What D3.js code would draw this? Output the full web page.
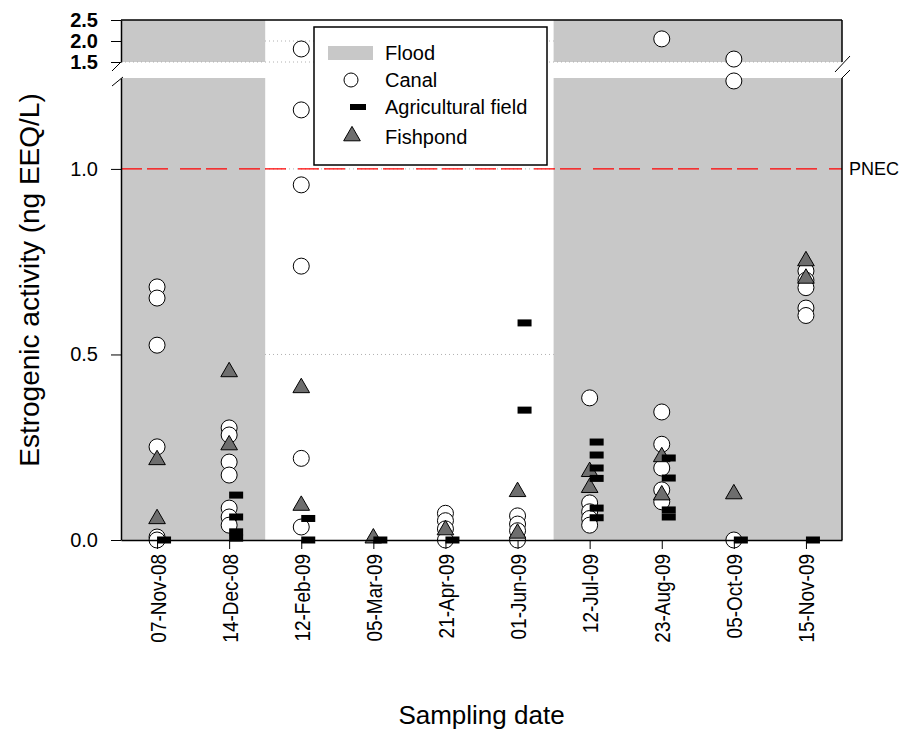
<!DOCTYPE html>
<html>
<head>
  <meta charset="utf-8">
  <title>Estrogenic activity</title>
  <style>
    body { margin: 0; background: #fff; }
    text { font-family: "Liberation Sans", Arial, sans-serif; }
  </style>
</head>
<body>
  <div id="plot"></div>

  <script src="https://cdn.jsdelivr.net/npm/d3@7/dist/d3.min.js"></script>
  <script>

    // sampling dates (x categories)
    let dates = ['07-Nov-08', '14-Dec-08', '12-Feb-09', '05-Mar-09', '21-Apr-09',
                 '01-Jun-09', '12-Jul-09', '23-Aug-09', '05-Oct-09', '15-Nov-09'];

    // flood periods, first and last date index
    let floods = [[0, 1], [6, 9]];

    // values per date, ng EEQ/L
    let canal = [
      [0.682, 0.652, 0.525, 0.251, 0.008, 0.0],
      [0.302, 0.283, 0.21, 0.175, 0.086, 0.062, 0.04],
      [1.81, 1.159, 0.957, 0.738, 0.22, 0.035],
      [],
      [0.072, 0.052, 0.03, 0.0],
      [0.065, 0.043, 0.025, 0.0],
      [0.383, 0.1, 0.076, 0.058, 0.04],
      [2.05, 0.345, 0.258, 0.194, 0.135, 0.103],
      [1.57, 1.237, 0.0],
      [0.725, 0.70, 0.68, 0.625, 0.605]
    ];
    let agri = [
      [0.0],
      [0.121, 0.062, 0.022, 0.005],
      [0.058, 0.0],
      [0.0],
      [0.0],
      [0.585, 0.35],
      [0.264, 0.229, 0.194, 0.166, 0.086, 0.06],
      [0.221, 0.167, 0.081, 0.062],
      [0.0],
      [0.0]
    ];
    let fish = [
      [0.216, 0.057],
      [0.453, 0.256],
      [0.41, 0.093],
      [0.005],
      [0.027],
      [0.13, 0.018],
      [0.184, 0.141],
      [0.224, 0.121],
      [0.124],
      [0.752, 0.705]
    ];

    let lowTicks = [0.0, 0.5, 1.0];
    let highTicks = [1.5, 2.0, 2.5];
    let pnec = 1.0;

    let svgWidth = 907;
    let svgHeight = 745;
    let pLeft = 121, pRight = 842, pTop = 20, pBottom = 540;
    let lowTop = 78, highBottom = 62;   // broken axis edges
    let lowMax = 1.245;                 // value at top of lower part

    let svg = d3.select('#plot')
      .append('svg')
        .attr('width', svgWidth)
        .attr('height', svgHeight);

    let x = d3.scalePoint()
              .domain(dates)
              .range([pLeft, pRight])
              .padding(0.5);
    let step = x.step();

    let yLow = d3.scaleLinear().domain([0, lowMax]).range([pBottom, lowTop]);
    let yHigh = d3.scaleLinear().domain([1.5, 2.5]).range([highBottom, pTop]);
    function y(v) { return v > lowMax ? yHigh(v) : yLow(v); }

    // grid lines (behind flood shading)
    let grid = svg.append('g')
      .attr('stroke', '#b0b0b0')
      .attr('stroke-dasharray', '1,3');
    [0.5, 1.0].forEach(function (v) {
      grid.append('line').attr('x1', pLeft).attr('x2', pRight)
        .attr('y1', yLow(v)).attr('y2', yLow(v));
    });
    grid.append('line').attr('x1', pLeft).attr('x2', pRight)
      .attr('y1', yHigh(2.0)).attr('y2', yHigh(2.0));

    // flood shading
    floods.forEach(function (f) {
      let x0 = Math.max(pLeft, x(dates[f[0]]) - step / 2);
      let x1 = Math.min(pRight, x(dates[f[1]]) + step / 2);
      svg.append('rect').attr('x', x0).attr('width', x1 - x0)
        .attr('y', lowTop).attr('height', pBottom - lowTop).attr('fill', '#c8c8c8');
      svg.append('rect').attr('x', x0).attr('width', x1 - x0)
        .attr('y', pTop).attr('height', highBottom - pTop).attr('fill', '#c8c8c8');
    });

    svg.append('line')
      .attr('x1', pLeft).attr('x2', pRight)
      .attr('y1', yHigh(1.5)).attr('y2', yHigh(1.5))
      .attr('stroke', '#b0b0b0').attr('stroke-dasharray', '1,3');

    // PNEC line
    svg.append('line')
      .attr('x1', pLeft).attr('x2', pRight)
      .attr('y1', yLow(pnec)).attr('y2', yLow(pnec))
      .attr('stroke', '#ff0000').attr('stroke-width', 1.3)
      .attr('stroke-dasharray', '21,5,21,12');
    svg.append('text')
      .attr('x', pRight + 7).attr('y', yLow(pnec)).attr('dy', '.35em')
      .style('font-size', '18px').text('PNEC');

    // legend
    let lg = svg.append('g');
    lg.append('rect').attr('x', 314).attr('y', 27).attr('width', 233).attr('height', 138)
      .attr('fill', '#fff').attr('stroke', '#000').attr('stroke-width', 1.5);
    lg.append('rect').attr('x', 328).attr('y', 46).attr('width', 45).attr('height', 14)
      .attr('fill', '#c8c8c8');
    lg.append('circle').attr('cx', 351).attr('cy', 80).attr('r', 7)
      .attr('fill', '#fff').attr('stroke', '#000');
    lg.append('rect').attr('x', 350).attr('y', 104).attr('width', 16).attr('height', 6)
      .attr('fill', '#000');
    lg.append('path').attr('d', d3.symbol(d3.symbolTriangle, 120)())
      .attr('transform', 'translate(352,136)')
      .attr('fill', '#6e6e6e').attr('stroke', '#000');
    [['Flood', 53], ['Canal', 80], ['Agricultural field', 107], ['Fishpond', 137]].forEach(function (t) {
      lg.append('text').attr('x', 385).attr('y', t[1]).attr('dy', '.35em')
        .style('font-size', '20px').text(t[0]);
    });

    // points
    function flat(arr) {
      let out = [];
      arr.forEach(function (vals, i) {
        vals.forEach(function (v) { out.push({date: dates[i], v: v}); });
      });
      return out;
    }

    svg.append('g').selectAll('circle')
      .data(flat(canal))
      .enter()
        .append('circle')
        .attr('cx', d => x(d.date))
        .attr('cy', d => y(d.v))
        .attr('r', 8)
        .attr('fill', '#fff')
        .attr('stroke', '#000')
        .attr('stroke-width', 1);

    svg.append('g').selectAll('path')
      .data(flat(fish))
      .enter()
        .append('path')
        .attr('d', d3.symbol(d3.symbolTriangle, 120)())
        .attr('transform', d => 'translate(' + x(d.date) + ',' + y(d.v) + ')')
        .attr('fill', '#6e6e6e')
        .attr('stroke', '#000')
        .attr('stroke-width', 1);

    svg.append('g').selectAll('rect')
      .data(flat(agri))
      .enter()
        .append('rect')
        .attr('x', d => x(d.date))
        .attr('y', d => y(d.v) - 3.5)
        .attr('width', 14)
        .attr('height', 7)
        .attr('fill', '#000');

    // frame
    let frame = svg.append('g').attr('stroke', '#000').attr('stroke-width', 1.5).attr('fill', 'none');
    frame.append('line').attr('x1', pLeft).attr('x2', pRight).attr('y1', pTop).attr('y2', pTop);
    frame.append('line').attr('x1', pRight).attr('x2', pRight).attr('y1', pTop).attr('y2', highBottom);
    frame.append('line').attr('x1', pRight).attr('x2', pRight).attr('y1', lowTop).attr('y2', pBottom);
    // break marks
    frame.append('line').attr('x1', pLeft - 9).attr('y1', highBottom + 9).attr('x2', pLeft).attr('y2', highBottom).attr('stroke-width', 1);
    frame.append('line').attr('x1', pLeft - 9).attr('y1', lowTop + 8).attr('x2', pLeft + 2).attr('y2', lowTop - 1).attr('stroke-width', 1);
    frame.append('line').attr('x1', pRight - 7).attr('y1', highBottom + 10).attr('x2', pRight + 8).attr('y2', highBottom - 6).attr('stroke-width', 1);
    frame.append('line').attr('x1', pRight).attr('y1', lowTop).attr('x2', pRight + 8).attr('y2', lowTop - 8).attr('stroke-width', 1);

    // axes
    let xAxis = d3.axisBottom(x).tickSize(9).tickSizeOuter(0);
    svg.append('g')
      .attr('transform', 'translate(0,' + pBottom + ')')
      .call(xAxis)
      .call(g => g.select('.domain').attr('stroke-width', 1.5))
      .selectAll('text')
        .attr('y', 0)
        .attr('x', -14)
        .attr('dy', '.35em')
        .attr('transform', 'rotate(-90) scale(1,1.2)')
        .style('text-anchor', 'end')
        .style('font-size', '19px')
        .attr('fill', '#000');

    svg.append('g')
      .attr('transform', 'translate(' + pLeft + ',0)')
      .call(d3.axisLeft(yLow).tickValues(lowTicks).tickFormat(d3.format('.1f')).tickSize(10).tickSizeOuter(0))
      .call(g => g.select('.domain').attr('stroke-width', 1.5))
      .selectAll('text')
        .attr('x', -23)
        .style('font-size', '20px')
        .attr('fill', '#000');

    svg.append('g')
      .attr('transform', 'translate(' + pLeft + ',0)')
      .call(d3.axisLeft(yHigh).tickValues(highTicks).tickFormat(d3.format('.1f')).tickSize(10).tickSizeOuter(0))
      .call(g => g.select('.domain').attr('stroke-width', 1.5))
      .selectAll('text')
        .attr('x', -23)
        .style('font-size', '20px')
        .style('font-weight', 'bold')
        .attr('fill', '#000');

    // axis titles
    svg.append('text')
      .attr('transform', 'translate(39,' + ((pTop + pBottom) / 2) + ') rotate(-90)')
      .style('text-anchor', 'middle')
      .style('font-size', '28px')
      .text('Estrogenic activity (ng EEQ/L)');

    svg.append('text')
      .attr('x', (pLeft + pRight) / 2).attr('y', 724)
      .style('text-anchor', 'middle')
      .style('font-size', '26px')
      .text('Sampling date');

  </script>
</body>
</html>
